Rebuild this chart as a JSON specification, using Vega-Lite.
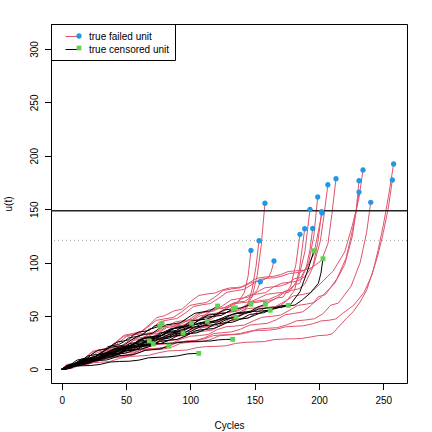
{
"$schema":"https://vega.github.io/schema/vega-lite/v6.json",
"width":356,"height":359,
"autosize":{"type":"none"},
"padding":{"left":51,"top":24,"right":25,"bottom":49},
"config":{"font":"Liberation Sans","view":{"stroke":"black","strokeWidth":1},
"axis":{"grid":false,"domain":false,"tickColor":"black","tickSize":6.5,"tickWidth":1,"labelFontSize":10,"labelColor":"black","titleFontSize":10,"titleFontWeight":"normal","titleColor":"black","labelFont":"Liberation Sans","titleFont":"Liberation Sans","labelFlush":false,"labelOverlap":false}},
"datasets":{
"units":[
{"id":"f1","lab":"true failed unit","st":"f"},{"id":"f2","lab":"true failed unit","st":"f"},{"id":"f3","lab":"true failed unit","st":"f"},{"id":"f4","lab":"true failed unit","st":"f"},{"id":"f5","lab":"true failed unit","st":"f"},{"id":"f6","lab":"true failed unit","st":"f"},{"id":"f7","lab":"true failed unit","st":"f"},{"id":"f8","lab":"true failed unit","st":"f"},{"id":"f9","lab":"true failed unit","st":"f"},{"id":"f10","lab":"true failed unit","st":"f"},{"id":"f11","lab":"true failed unit","st":"f"},{"id":"f12","lab":"true failed unit","st":"f"},{"id":"f13","lab":"true failed unit","st":"f"},{"id":"f14","lab":"true failed unit","st":"f"},{"id":"f15","lab":"true failed unit","st":"f"},{"id":"f16","lab":"true failed unit","st":"f"},{"id":"f17","lab":"true failed unit","st":"f"},{"id":"f18","lab":"true failed unit","st":"f"},{"id":"f19","lab":"true failed unit","st":"f"},{"id":"f20","lab":"true failed unit","st":"f"},
{"id":"c1","lab":"true censored unit","st":"c"},{"id":"c2","lab":"true censored unit","st":"c"},{"id":"c3","lab":"true censored unit","st":"c"},{"id":"c4","lab":"true censored unit","st":"c"},{"id":"c5","lab":"true censored unit","st":"c"},{"id":"c6","lab":"true censored unit","st":"c"},{"id":"c7","lab":"true censored unit","st":"c"},{"id":"c8","lab":"true censored unit","st":"c"},{"id":"c9","lab":"true censored unit","st":"c"},{"id":"c10","lab":"true censored unit","st":"c"},{"id":"c11","lab":"true censored unit","st":"c"},{"id":"c12","lab":"true censored unit","st":"c"},{"id":"c13","lab":"true censored unit","st":"c"},{"id":"c14","lab":"true censored unit","st":"c"},{"id":"c15","lab":"true censored unit","st":"c"},{"id":"c16","lab":"true censored unit","st":"c"},{"id":"c17","lab":"true censored unit","st":"c"},{"id":"c18","lab":"true censored unit","st":"c"},{"id":"c19","lab":"true censored unit","st":"c"},{"id":"c20","lab":"true censored unit","st":"c"}
],
"refs":[{"k":"solid","y":148.5},{"k":"dot","y":120.8}],
"paths":[
{"id":"f1","t":0,"u":0},{"id":"f1","t":10,"u":3.5},{"id":"f1","t":22,"u":8.2},{"id":"f1","t":35,"u":11.6},{"id":"f1","t":48,"u":18},{"id":"f1","t":60,"u":21.5},{"id":"f1","t":73,"u":27.3},{"id":"f1","t":86,"u":30.6},{"id":"f1","t":98,"u":36.2},{"id":"f1","t":110,"u":39.5},{"id":"f1","t":122,"u":44.6},{"id":"f1","t":133,"u":48.8},{"id":"f1","t":142,"u":55.5},{"id":"f1","t":148,"u":68},{"id":"f1","t":152,"u":88},{"id":"f1","t":155,"u":115},{"id":"f1","t":158,"u":155.5},
{"id":"f2","t":0,"u":0},{"id":"f2","t":12,"u":4.4},{"id":"f2","t":25,"u":8.6},{"id":"f2","t":38,"u":13.5},{"id":"f2","t":50,"u":16.8},{"id":"f2","t":63,"u":22.4},{"id":"f2","t":76,"u":25.7},{"id":"f2","t":90,"u":31.2},{"id":"f2","t":103,"u":34.6},{"id":"f2","t":116,"u":40.3},{"id":"f2","t":128,"u":44.8},{"id":"f2","t":138,"u":50.5},{"id":"f2","t":144,"u":58},{"id":"f2","t":148,"u":75},{"id":"f2","t":151,"u":96},{"id":"f2","t":153.4,"u":120.4},
{"id":"f3","t":0,"u":0},{"id":"f3","t":11,"u":5.3},{"id":"f3","t":23,"u":9.6},{"id":"f3","t":35,"u":15.4},{"id":"f3","t":47,"u":20.5},{"id":"f3","t":59,"u":26.3},{"id":"f3","t":71,"u":30.6},{"id":"f3","t":84,"u":37.2},{"id":"f3","t":96,"u":41.5},{"id":"f3","t":108,"u":47.4},{"id":"f3","t":120,"u":52.6},{"id":"f3","t":130,"u":58.3},{"id":"f3","t":137,"u":62.8},{"id":"f3","t":142,"u":72},{"id":"f3","t":145,"u":88},{"id":"f3","t":147.1,"u":111.4},
{"id":"f4","t":0,"u":0},{"id":"f4","t":8,"u":5.2},{"id":"f4","t":18,"u":10.6},{"id":"f4","t":30,"u":18.3},{"id":"f4","t":42,"u":25.4},{"id":"f4","t":55,"u":33.5},{"id":"f4","t":68,"u":41.6},{"id":"f4","t":80,"u":50.2},{"id":"f4","t":87,"u":54.6},{"id":"f4","t":100,"u":63.3},{"id":"f4","t":113,"u":70.6},{"id":"f4","t":125,"u":74.4},{"id":"f4","t":136,"u":76.6},{"id":"f4","t":146,"u":80.4},{"id":"f4","t":155,"u":82.7},{"id":"f4","t":161,"u":86.5},{"id":"f4","t":163,"u":92},{"id":"f4","t":165,"u":101.4},
{"id":"f5","t":0,"u":0},{"id":"f5","t":10,"u":5.4},{"id":"f5","t":21,"u":9.7},{"id":"f5","t":33,"u":16.3},{"id":"f5","t":46,"u":21.6},{"id":"f5","t":58,"u":29.2},{"id":"f5","t":70,"u":34.5},{"id":"f5","t":83,"u":41.3},{"id":"f5","t":95,"u":45.6},{"id":"f5","t":108,"u":52.4},{"id":"f5","t":120,"u":56.5},{"id":"f5","t":132,"u":61.3},{"id":"f5","t":142,"u":63.6},{"id":"f5","t":148,"u":68},{"id":"f5","t":152,"u":74.5},{"id":"f5","t":154.4,"u":82},
{"id":"f6","t":0,"u":0},{"id":"f6","t":12,"u":4.3},{"id":"f6","t":25,"u":9.5},{"id":"f6","t":38,"u":13.6},{"id":"f6","t":52,"u":19.4},{"id":"f6","t":66,"u":23.6},{"id":"f6","t":80,"u":30.3},{"id":"f6","t":94,"u":34.6},{"id":"f6","t":108,"u":40.5},{"id":"f6","t":122,"u":45.6},{"id":"f6","t":136,"u":52.4},{"id":"f6","t":150,"u":57.5},{"id":"f6","t":162,"u":63.4},{"id":"f6","t":172,"u":67.6},{"id":"f6","t":178,"u":78},{"id":"f6","t":182,"u":98},{"id":"f6","t":185.2,"u":126.4},
{"id":"f7","t":0,"u":0},{"id":"f7","t":13,"u":5.2},{"id":"f7","t":26,"u":8.6},{"id":"f7","t":40,"u":13.4},{"id":"f7","t":54,"u":17.6},{"id":"f7","t":68,"u":22.5},{"id":"f7","t":82,"u":26.6},{"id":"f7","t":96,"u":31.4},{"id":"f7","t":110,"u":35.6},{"id":"f7","t":124,"u":41.5},{"id":"f7","t":138,"u":46.6},{"id":"f7","t":152,"u":53.4},{"id":"f7","t":165,"u":58.6},{"id":"f7","t":175,"u":64.3},{"id":"f7","t":181,"u":74},{"id":"f7","t":185,"u":95},{"id":"f7","t":188.9,"u":131.7},
{"id":"f8","t":0,"u":0},{"id":"f8","t":11,"u":5.4},{"id":"f8","t":23,"u":9.6},{"id":"f8","t":36,"u":16.3},{"id":"f8","t":49,"u":21.5},{"id":"f8","t":62,"u":28.4},{"id":"f8","t":75,"u":33.6},{"id":"f8","t":88,"u":40.4},{"id":"f8","t":101,"u":45.5},{"id":"f8","t":114,"u":51.3},{"id":"f8","t":127,"u":56.6},{"id":"f8","t":140,"u":62.4},{"id":"f8","t":153,"u":66.5},{"id":"f8","t":166,"u":71.3},{"id":"f8","t":177,"u":74.6},{"id":"f8","t":185,"u":80.5},{"id":"f8","t":190,"u":95},{"id":"f8","t":193,"u":112},{"id":"f8","t":195.1,"u":132},
{"id":"f9","t":0,"u":0},{"id":"f9","t":12,"u":4.6},{"id":"f9","t":25,"u":10.4},{"id":"f9","t":38,"u":14.5},{"id":"f9","t":51,"u":20.3},{"id":"f9","t":64,"u":25.6},{"id":"f9","t":77,"u":31.4},{"id":"f9","t":90,"u":35.5},{"id":"f9","t":103,"u":42.3},{"id":"f9","t":116,"u":46.6},{"id":"f9","t":129,"u":53.4},{"id":"f9","t":142,"u":57.6},{"id":"f9","t":155,"u":63.3},{"id":"f9","t":167,"u":66.5},{"id":"f9","t":177,"u":72.4},{"id":"f9","t":184,"u":85},{"id":"f9","t":189,"u":110},{"id":"f9","t":193,"u":149.8},
{"id":"f10","t":0,"u":0},{"id":"f10","t":10,"u":5.3},{"id":"f10","t":22,"u":10.6},{"id":"f10","t":34,"u":17.4},{"id":"f10","t":47,"u":22.5},{"id":"f10","t":60,"u":29.4},{"id":"f10","t":73,"u":34.5},{"id":"f10","t":86,"u":41.3},{"id":"f10","t":99,"u":46.5},{"id":"f10","t":112,"u":53.4},{"id":"f10","t":125,"u":59.5},{"id":"f10","t":138,"u":66.3},{"id":"f10","t":151,"u":71.6},{"id":"f10","t":164,"u":77.3},{"id":"f10","t":176,"u":80.6},{"id":"f10","t":186,"u":86},{"id":"f10","t":192,"u":100},{"id":"f10","t":196,"u":125},{"id":"f10","t":199,"u":161.4},
{"id":"f11","t":0,"u":0},{"id":"f11","t":11,"u":4.2},{"id":"f11","t":24,"u":9.5},{"id":"f11","t":37,"u":13.6},{"id":"f11","t":50,"u":20.4},{"id":"f11","t":63,"u":24.6},{"id":"f11","t":76,"u":31.3},{"id":"f11","t":89,"u":35.5},{"id":"f11","t":102,"u":42.4},{"id":"f11","t":115,"u":47.5},{"id":"f11","t":128,"u":53.3},{"id":"f11","t":141,"u":58.6},{"id":"f11","t":154,"u":64.4},{"id":"f11","t":167,"u":68.5},{"id":"f11","t":180,"u":74.3},{"id":"f11","t":189,"u":80},{"id":"f11","t":195,"u":95},{"id":"f11","t":199,"u":118},{"id":"f11","t":202.1,"u":147.6},
{"id":"f12","t":0,"u":0},{"id":"f12","t":9,"u":5.3},{"id":"f12","t":20,"u":10.6},{"id":"f12","t":32,"u":18.4},{"id":"f12","t":44,"u":24.6},{"id":"f12","t":57,"u":32.4},{"id":"f12","t":70,"u":38.5},{"id":"f12","t":83,"u":46.3},{"id":"f12","t":96,"u":52.6},{"id":"f12","t":109,"u":60.4},{"id":"f12","t":122,"u":66.5},{"id":"f12","t":135,"u":73.6},{"id":"f12","t":148,"u":79.5},{"id":"f12","t":160,"u":85.3},{"id":"f12","t":172,"u":87.6},{"id":"f12","t":182,"u":90.4},{"id":"f12","t":190,"u":94},{"id":"f12","t":196,"u":108},{"id":"f12","t":202.3,"u":146.4},
{"id":"f13","t":0,"u":0},{"id":"f13","t":10,"u":4.4},{"id":"f13","t":22,"u":9.6},{"id":"f13","t":35,"u":16.3},{"id":"f13","t":48,"u":21.5},{"id":"f13","t":61,"u":28.4},{"id":"f13","t":74,"u":33.6},{"id":"f13","t":87,"u":40.3},{"id":"f13","t":100,"u":45.5},{"id":"f13","t":113,"u":52.4},{"id":"f13","t":126,"u":57.6},{"id":"f13","t":139,"u":65.3},{"id":"f13","t":152,"u":70.5},{"id":"f13","t":165,"u":77.4},{"id":"f13","t":178,"u":81.6},{"id":"f13","t":189,"u":87},{"id":"f13","t":196,"u":98},{"id":"f13","t":201,"u":120},{"id":"f13","t":204,"u":145},{"id":"f13","t":206.9,"u":172.9},
{"id":"f14","t":0,"u":0},{"id":"f14","t":8,"u":5.4},{"id":"f14","t":19,"u":10.6},{"id":"f14","t":30,"u":18.3},{"id":"f14","t":42,"u":24.5},{"id":"f14","t":54,"u":32.4},{"id":"f14","t":67,"u":39.6},{"id":"f14","t":80,"u":47.3},{"id":"f14","t":93,"u":53.5},{"id":"f14","t":106,"u":61.4},{"id":"f14","t":119,"u":67.6},{"id":"f14","t":132,"u":75.3},{"id":"f14","t":145,"u":80.5},{"id":"f14","t":158,"u":86.4},{"id":"f14","t":170,"u":88.6},{"id":"f14","t":182,"u":92.3},{"id":"f14","t":194,"u":95},{"id":"f14","t":202,"u":102},{"id":"f14","t":207,"u":118},{"id":"f14","t":210,"u":145},{"id":"f14","t":213.2,"u":178.5},
{"id":"f15","t":0,"u":0},{"id":"f15","t":12,"u":4.3},{"id":"f15","t":25,"u":7.6},{"id":"f15","t":38,"u":12.4},{"id":"f15","t":51,"u":15.6},{"id":"f15","t":65,"u":20.3},{"id":"f15","t":79,"u":23.5},{"id":"f15","t":93,"u":28.4},{"id":"f15","t":107,"u":31.6},{"id":"f15","t":121,"u":37.3},{"id":"f15","t":135,"u":40.5},{"id":"f15","t":149,"u":45.4},{"id":"f15","t":163,"u":49.6},{"id":"f15","t":177,"u":55.3},{"id":"f15","t":190,"u":61},{"id":"f15","t":202,"u":68},{"id":"f15","t":212,"u":80},{"id":"f15","t":220,"u":98},{"id":"f15","t":226,"u":125},{"id":"f15","t":229,"u":150},{"id":"f15","t":231.1,"u":176.6},
{"id":"f16","t":0,"u":0},{"id":"f16","t":13,"u":4.4},{"id":"f16","t":27,"u":7.6},{"id":"f16","t":41,"u":11.3},{"id":"f16","t":55,"u":14.5},{"id":"f16","t":69,"u":19.4},{"id":"f16","t":83,"u":21.6},{"id":"f16","t":97,"u":26.3},{"id":"f16","t":111,"u":29.5},{"id":"f16","t":125,"u":34.4},{"id":"f16","t":139,"u":37.6},{"id":"f16","t":153,"u":42.3},{"id":"f16","t":167,"u":46.5},{"id":"f16","t":181,"u":52.4},{"id":"f16","t":194,"u":60},{"id":"f16","t":205,"u":70},{"id":"f16","t":214,"u":85},{"id":"f16","t":221,"u":104},{"id":"f16","t":226,"u":130},{"id":"f16","t":229,"u":148},{"id":"f16","t":231.1,"u":166},
{"id":"f17","t":0,"u":0},{"id":"f17","t":11,"u":5.3},{"id":"f17","t":23,"u":9.6},{"id":"f17","t":36,"u":14.4},{"id":"f17","t":49,"u":18.6},{"id":"f17","t":62,"u":24.3},{"id":"f17","t":75,"u":28.5},{"id":"f17","t":89,"u":34.4},{"id":"f17","t":103,"u":38.6},{"id":"f17","t":117,"u":44.3},{"id":"f17","t":131,"u":48.5},{"id":"f17","t":145,"u":53.4},{"id":"f17","t":159,"u":57.6},{"id":"f17","t":173,"u":63.3},{"id":"f17","t":187,"u":70},{"id":"f17","t":200,"u":79},{"id":"f17","t":211,"u":92},{"id":"f17","t":220,"u":110},{"id":"f17","t":226,"u":135},{"id":"f17","t":231,"u":160},{"id":"f17","t":234.2,"u":186.7},
{"id":"f18","t":0,"u":0},{"id":"f18","t":14,"u":4.3},{"id":"f18","t":28,"u":7.6},{"id":"f18","t":42,"u":11.4},{"id":"f18","t":56,"u":13.6},{"id":"f18","t":70,"u":18.3},{"id":"f18","t":85,"u":20.5},{"id":"f18","t":100,"u":25.4},{"id":"f18","t":115,"u":27.6},{"id":"f18","t":130,"u":32.3},{"id":"f18","t":145,"u":34.5},{"id":"f18","t":160,"u":38.4},{"id":"f18","t":175,"u":41.6},{"id":"f18","t":190,"u":46.3},{"id":"f18","t":203,"u":52},{"id":"f18","t":215,"u":62},{"id":"f18","t":225,"u":78},{"id":"f18","t":232,"u":100},{"id":"f18","t":237,"u":128},{"id":"f18","t":240.2,"u":156.4},
{"id":"f19","t":0,"u":0},{"id":"f19","t":15,"u":4.2},{"id":"f19","t":30,"u":6.6},{"id":"f19","t":45,"u":10.3},{"id":"f19","t":60,"u":12.5},{"id":"f19","t":75,"u":15.4},{"id":"f19","t":90,"u":17.6},{"id":"f19","t":105,"u":20.3},{"id":"f19","t":120,"u":21.5},{"id":"f19","t":135,"u":24.2},{"id":"f19","t":150,"u":25.6},{"id":"f19","t":165,"u":27.8},{"id":"f19","t":180,"u":28.6},{"id":"f19","t":193,"u":30.2},{"id":"f19","t":206,"u":32},{"id":"f19","t":214,"u":38},{"id":"f19","t":221.5,"u":48},{"id":"f19","t":226.6,"u":54},{"id":"f19","t":231.9,"u":63},{"id":"f19","t":237,"u":74},{"id":"f19","t":242.2,"u":93},{"id":"f19","t":246,"u":112},{"id":"f19","t":250,"u":135},{"id":"f19","t":254,"u":162},{"id":"f19","t":258,"u":192.3},
{"id":"f20","t":0,"u":0},{"id":"f20","t":13,"u":4.4},{"id":"f20","t":27,"u":7.6},{"id":"f20","t":41,"u":12.3},{"id":"f20","t":55,"u":14.6},{"id":"f20","t":69,"u":19.3},{"id":"f20","t":83,"u":21.5},{"id":"f20","t":97,"u":26.4},{"id":"f20","t":111,"u":28.6},{"id":"f20","t":125,"u":32.3},{"id":"f20","t":139,"u":33.6},{"id":"f20","t":153,"u":36.4},{"id":"f20","t":167,"u":37.6},{"id":"f20","t":181,"u":40.3},{"id":"f20","t":195,"u":42.6},{"id":"f20","t":208,"u":46},{"id":"f20","t":218,"u":52},{"id":"f20","t":227,"u":60},{"id":"f20","t":235,"u":72},{"id":"f20","t":241,"u":88},{"id":"f20","t":246,"u":108},{"id":"f20","t":250,"u":128},{"id":"f20","t":254,"u":152},{"id":"f20","t":257,"u":177.3},
{"id":"c1","t":0,"u":0},{"id":"c1","t":12,"u":5.3},{"id":"c1","t":25,"u":9.6},{"id":"c1","t":38,"u":15.4},{"id":"c1","t":51,"u":19.6},{"id":"c1","t":64,"u":25.3},{"id":"c1","t":77,"u":29.5},{"id":"c1","t":90,"u":35.4},{"id":"c1","t":103,"u":39.6},{"id":"c1","t":116,"u":44.3},{"id":"c1","t":129,"u":47.5},{"id":"c1","t":142,"u":52.4},{"id":"c1","t":155,"u":54.6},{"id":"c1","t":167,"u":58.3},{"id":"c1","t":177.4,"u":60.2},{"id":"c1","t":185.2,"u":72.7},{"id":"c1","t":190.4,"u":90},{"id":"c1","t":193,"u":99.3},{"id":"c1","t":196.1,"u":111.1},
{"id":"c2","t":0,"u":0},{"id":"c2","t":11,"u":4.6},{"id":"c2","t":23,"u":10.3},{"id":"c2","t":36,"u":14.5},{"id":"c2","t":49,"u":20.4},{"id":"c2","t":62,"u":24.6},{"id":"c2","t":75,"u":30.3},{"id":"c2","t":88,"u":34.5},{"id":"c2","t":101,"u":40.4},{"id":"c2","t":114,"u":44.6},{"id":"c2","t":127,"u":49.3},{"id":"c2","t":140,"u":52.5},{"id":"c2","t":153,"u":56.4},{"id":"c2","t":166,"u":57.6},{"id":"c2","t":175,"u":59.3},{"id":"c2","t":181.3,"u":60.2},{"id":"c2","t":187,"u":65},{"id":"c2","t":193,"u":71.2},{"id":"c2","t":199.5,"u":80.5},{"id":"c2","t":201.5,"u":90},{"id":"c2","t":203.1,"u":103.6},
{"id":"c3","t":0,"u":0},{"id":"c3","t":10,"u":5.4},{"id":"c3","t":22,"u":9.6},{"id":"c3","t":34,"u":15.3},{"id":"c3","t":46,"u":19.5},{"id":"c3","t":58,"u":25.4},{"id":"c3","t":70,"u":29.6},{"id":"c3","t":82,"u":35.3},{"id":"c3","t":94,"u":39.5},{"id":"c3","t":106,"u":45.4},{"id":"c3","t":118,"u":49.6},{"id":"c3","t":130,"u":54.3},{"id":"c3","t":140,"u":57.6},{"id":"c3","t":147.1,"u":60.9},
{"id":"c4","t":0,"u":0},{"id":"c4","t":12,"u":4.5},{"id":"c4","t":25,"u":9.3},{"id":"c4","t":38,"u":13.6},{"id":"c4","t":51,"u":19.4},{"id":"c4","t":64,"u":23.5},{"id":"c4","t":77,"u":29.3},{"id":"c4","t":90,"u":33.6},{"id":"c4","t":103,"u":39.4},{"id":"c4","t":116,"u":43.5},{"id":"c4","t":129,"u":49.3},{"id":"c4","t":142,"u":53.6},{"id":"c4","t":152,"u":58.2},{"id":"c4","t":158.3,"u":60.9},
{"id":"c5","t":0,"u":0},{"id":"c5","t":13,"u":4.4},{"id":"c5","t":27,"u":9.3},{"id":"c5","t":41,"u":12.6},{"id":"c5","t":55,"u":18.4},{"id":"c5","t":69,"u":21.6},{"id":"c5","t":83,"u":27.3},{"id":"c5","t":97,"u":31.5},{"id":"c5","t":111,"u":37.4},{"id":"c5","t":125,"u":41.6},{"id":"c5","t":139,"u":47.3},{"id":"c5","t":150,"u":50.6},{"id":"c5","t":157,"u":54.2},{"id":"c5","t":162.1,"u":55.3},
{"id":"c6","t":0,"u":0},{"id":"c6","t":14,"u":5.3},{"id":"c6","t":28,"u":8.6},{"id":"c6","t":42,"u":14.4},{"id":"c6","t":56,"u":17.6},{"id":"c6","t":70,"u":23.4},{"id":"c6","t":84,"u":27.5},{"id":"c6","t":98,"u":33.3},{"id":"c6","t":112,"u":37.6},{"id":"c6","t":126,"u":43.4},{"id":"c6","t":140,"u":47.5},{"id":"c6","t":152,"u":52.3},{"id":"c6","t":162,"u":55.6},{"id":"c6","t":170,"u":58.2},{"id":"c6","t":176.1,"u":59.9},
{"id":"c7","t":0,"u":0},{"id":"c7","t":10,"u":5.4},{"id":"c7","t":21,"u":10.6},{"id":"c7","t":32,"u":16.4},{"id":"c7","t":43,"u":21.6},{"id":"c7","t":54,"u":27.3},{"id":"c7","t":65,"u":32.6},{"id":"c7","t":76,"u":38.4},{"id":"c7","t":87,"u":42.6},{"id":"c7","t":98,"u":48.3},{"id":"c7","t":109,"u":53.6},{"id":"c7","t":121.2,"u":59.3},
{"id":"c8","t":0,"u":0},{"id":"c8","t":11,"u":5.3},{"id":"c8","t":23,"u":9.6},{"id":"c8","t":35,"u":15.4},{"id":"c8","t":47,"u":19.6},{"id":"c8","t":59,"u":25.3},{"id":"c8","t":71,"u":29.5},{"id":"c8","t":83,"u":35.4},{"id":"c8","t":95,"u":40.6},{"id":"c8","t":107,"u":46.3},{"id":"c8","t":119,"u":50.5},{"id":"c8","t":133.4,"u":56.8},
{"id":"c9","t":0,"u":0},{"id":"c9","t":12,"u":5.4},{"id":"c9","t":24,"u":9.6},{"id":"c9","t":36,"u":16.3},{"id":"c9","t":48,"u":20.5},{"id":"c9","t":60,"u":26.4},{"id":"c9","t":72,"u":30.6},{"id":"c9","t":84,"u":36.3},{"id":"c9","t":96,"u":40.5},{"id":"c9","t":108,"u":47.4},{"id":"c9","t":120,"u":51.6},{"id":"c9","t":135,"u":57.7},
{"id":"c10","t":0,"u":0},{"id":"c10","t":12,"u":4.3},{"id":"c10","t":25,"u":9.4},{"id":"c10","t":38,"u":12.6},{"id":"c10","t":51,"u":18.3},{"id":"c10","t":64,"u":21.5},{"id":"c10","t":77,"u":27.4},{"id":"c10","t":90,"u":31.6},{"id":"c10","t":103,"u":37.3},{"id":"c10","t":116,"u":41.5},{"id":"c10","t":126,"u":45.4},{"id":"c10","t":135.5,"u":48.7},
{"id":"c11","t":0,"u":0},{"id":"c11","t":10,"u":4.4},{"id":"c11","t":21,"u":9.3},{"id":"c11","t":32,"u":12.6},{"id":"c11","t":43,"u":18.4},{"id":"c11","t":54,"u":21.6},{"id":"c11","t":65,"u":27.3},{"id":"c11","t":76,"u":30.5},{"id":"c11","t":87,"u":35.4},{"id":"c11","t":98,"u":38.6},{"id":"c11","t":106,"u":42.3},{"id":"c11","t":113.2,"u":44.9},
{"id":"c12","t":0,"u":0},{"id":"c12","t":10,"u":4.3},{"id":"c12","t":20,"u":9.4},{"id":"c12","t":30,"u":12.6},{"id":"c12","t":40,"u":18.3},{"id":"c12","t":50,"u":21.5},{"id":"c12","t":60,"u":27.4},{"id":"c12","t":70,"u":30.6},{"id":"c12","t":80,"u":35.3},{"id":"c12","t":90,"u":38.5},{"id":"c12","t":101,"u":43.1},
{"id":"c13","t":0,"u":0},{"id":"c13","t":8,"u":5.3},{"id":"c13","t":16,"u":9.6},{"id":"c13","t":24,"u":14.4},{"id":"c13","t":32,"u":18.6},{"id":"c13","t":40,"u":23.3},{"id":"c13","t":48,"u":26.5},{"id":"c13","t":56,"u":32.4},{"id":"c13","t":64,"u":35.6},{"id":"c13","t":72,"u":40.3},{"id":"c13","t":78,"u":43.1},
{"id":"c14","t":0,"u":0},{"id":"c14","t":8,"u":4.4},{"id":"c14","t":16,"u":8.6},{"id":"c14","t":24,"u":13.3},{"id":"c14","t":32,"u":16.5},{"id":"c14","t":40,"u":22.4},{"id":"c14","t":48,"u":25.6},{"id":"c14","t":56,"u":30.3},{"id":"c14","t":64,"u":33.5},{"id":"c14","t":71,"u":38.4},{"id":"c14","t":76.4,"u":40.6},
{"id":"c15","t":0,"u":0},{"id":"c15","t":10,"u":4.3},{"id":"c15","t":20,"u":7.6},{"id":"c15","t":30,"u":12.4},{"id":"c15","t":40,"u":14.6},{"id":"c15","t":50,"u":19.3},{"id":"c15","t":60,"u":21.5},{"id":"c15","t":70,"u":26.4},{"id":"c15","t":80,"u":28.6},{"id":"c15","t":88,"u":32.3},{"id":"c15","t":94.3,"u":34},
{"id":"c16","t":0,"u":0},{"id":"c16","t":8,"u":3.4},{"id":"c16","t":16,"u":5.6},{"id":"c16","t":24,"u":10.3},{"id":"c16","t":32,"u":12.5},{"id":"c16","t":40,"u":16.4},{"id":"c16","t":48,"u":18.6},{"id":"c16","t":56,"u":22.3},{"id":"c16","t":62,"u":23.6},{"id":"c16","t":68.1,"u":26.5},
{"id":"c17","t":0,"u":0},{"id":"c17","t":9,"u":3.4},{"id":"c17","t":18,"u":5.6},{"id":"c17","t":27,"u":9.3},{"id":"c17","t":36,"u":11.5},{"id":"c17","t":45,"u":15.4},{"id":"c17","t":54,"u":17.6},{"id":"c17","t":63,"u":21.3},{"id":"c17","t":71.2,"u":23.7},
{"id":"c18","t":0,"u":0},{"id":"c18","t":10,"u":3.3},{"id":"c18","t":20,"u":5.6},{"id":"c18","t":30,"u":8.4},{"id":"c18","t":40,"u":10.6},{"id":"c18","t":50,"u":13.3},{"id":"c18","t":60,"u":15.5},{"id":"c18","t":70,"u":18.4},{"id":"c18","t":83.2,"u":21.8},
{"id":"c19","t":0,"u":0},{"id":"c19","t":12,"u":4.3},{"id":"c19","t":25,"u":8.6},{"id":"c19","t":38,"u":14.3},{"id":"c19","t":50,"u":17.6},{"id":"c19","t":60,"u":21.4},{"id":"c19","t":68,"u":23.8},{"id":"c19","t":80,"u":24.3},{"id":"c19","t":95,"u":25.6},{"id":"c19","t":110,"u":26.3},{"id":"c19","t":122,"u":27.6},{"id":"c19","t":132.9,"u":28.1},
{"id":"c20","t":0,"u":0},{"id":"c20","t":15,"u":3.3},{"id":"c20","t":30,"u":4.6},{"id":"c20","t":45,"u":7.4},{"id":"c20","t":60,"u":8.6},{"id":"c20","t":75,"u":11.3},{"id":"c20","t":90,"u":12.6},{"id":"c20","t":106.5,"u":15},
{"id":"f1","t":5,"u":2.8},{"id":"f1","t":16,"u":4.4},{"id":"f1","t":28.5,"u":10.9},{"id":"f1","t":41.5,"u":12.9},{"id":"f1","t":54,"u":20.8},{"id":"f1","t":66.5,"u":22.7},{"id":"f1","t":79.5,"u":29.9},{"id":"f1","t":92,"u":31.7},{"id":"f1","t":104,"u":38.8},{"id":"f1","t":116,"u":40.5},{"id":"f1","t":127.5,"u":48},{"id":"f1","t":137.5,"u":50.1},
{"id":"f2","t":6,"u":3.5},{"id":"f2","t":18.5,"u":5.2},{"id":"f2","t":31.5,"u":12.5},{"id":"f2","t":44,"u":14.2},{"id":"f2","t":56.5,"u":21.3},{"id":"f2","t":69.5,"u":23.1},{"id":"f2","t":83,"u":30.1},{"id":"f2","t":96.5,"u":31.9},{"id":"f2","t":109.5,"u":39.2},{"id":"f2","t":122,"u":41.2},{"id":"f2","t":133,"u":49.4},{"id":"f2","t":141,"u":52},
{"id":"f3","t":5.5,"u":1.1},{"id":"f3","t":17,"u":8.7},{"id":"f3","t":29,"u":10.8},{"id":"f3","t":41,"u":19.5},{"id":"f3","t":53,"u":21.7},{"id":"f3","t":65,"u":29.7},{"id":"f3","t":77.5,"u":31.9},{"id":"f3","t":90,"u":40.6},{"id":"f3","t":102,"u":42.7},{"id":"f3","t":114,"u":51.6},{"id":"f3","t":125,"u":53.7},{"id":"f3","t":133.5,"u":61.9},
{"id":"f4","t":4,"u":4.2},{"id":"f4","t":13,"u":6.3},{"id":"f4","t":24,"u":16.8},{"id":"f4","t":36,"u":19.7},{"id":"f4","t":48.5,"u":31.9},{"id":"f4","t":61.5,"u":35.1},{"id":"f4","t":74,"u":48.5},{"id":"f4","t":93.5,"u":56.3},{"id":"f4","t":106.5,"u":69.1},{"id":"f4","t":119,"u":71.4},{"id":"f4","t":130.5,"u":76.2},{"id":"f4","t":141,"u":77.4},{"id":"f4","t":150.5,"u":82.2},
{"id":"f5","t":5,"u":1.1},{"id":"f5","t":15.5,"u":8.8},{"id":"f5","t":27,"u":11},{"id":"f5","t":39.5,"u":20.5},{"id":"f5","t":52,"u":23.1},{"id":"f5","t":64,"u":33.4},{"id":"f5","t":76.5,"u":35.9},{"id":"f5","t":89,"u":44.7},{"id":"f5","t":101.5,"u":46.9},{"id":"f5","t":114,"u":55.7},{"id":"f5","t":126,"u":57.5},{"id":"f5","t":137,"u":63.1},
{"id":"f6","t":6,"u":3.4},{"id":"f6","t":18.5,"u":5.3},{"id":"f6","t":31.5,"u":12.8},{"id":"f6","t":45,"u":14.8},{"id":"f6","t":59,"u":22.8},{"id":"f6","t":73,"u":25},{"id":"f6","t":87,"u":33.7},{"id":"f6","t":101,"u":35.8},{"id":"f6","t":115,"u":44.6},{"id":"f6","t":129,"u":47},{"id":"f6","t":143,"u":56.5},{"id":"f6","t":156,"u":58.7},{"id":"f6","t":167,"u":66.8},
{"id":"f7","t":6.5,"u":1},{"id":"f7","t":19.5,"u":7.9},{"id":"f7","t":33,"u":9.6},{"id":"f7","t":47,"u":16.8},{"id":"f7","t":61,"u":18.6},{"id":"f7","t":75,"u":25.8},{"id":"f7","t":89,"u":27.6},{"id":"f7","t":103,"u":34.8},{"id":"f7","t":117,"u":36.8},{"id":"f7","t":131,"u":45.6},{"id":"f7","t":145,"u":48},{"id":"f7","t":158.5,"u":57.6},{"id":"f7","t":170,"u":59.7},
{"id":"f8","t":5.5,"u":4.3},{"id":"f8","t":17,"u":6.2},{"id":"f8","t":29.5,"u":15},{"id":"f8","t":42.5,"u":17.3},{"id":"f8","t":55.5,"u":27},{"id":"f8","t":68.5,"u":29.4},{"id":"f8","t":81.5,"u":39},{"id":"f8","t":94.5,"u":41.4},{"id":"f8","t":107.5,"u":50.1},{"id":"f8","t":120.5,"u":52.4},{"id":"f8","t":133.5,"u":61.2},{"id":"f8","t":146.5,"u":63.2},{"id":"f8","t":159.5,"u":70.3},{"id":"f8","t":171.5,"u":72},{"id":"f8","t":181,"u":79.3},
{"id":"f9","t":6,"u":0.9},{"id":"f9","t":18.5,"u":9.2},{"id":"f9","t":31.5,"u":11.2},{"id":"f9","t":44.5,"u":19.1},{"id":"f9","t":57.5,"u":21.4},{"id":"f9","t":70.5,"u":30.2},{"id":"f9","t":83.5,"u":32.2},{"id":"f9","t":96.5,"u":40.9},{"id":"f9","t":109.5,"u":43.2},{"id":"f9","t":122.5,"u":52},{"id":"f9","t":135.5,"u":54.2},{"id":"f9","t":148.5,"u":62.2},{"id":"f9","t":161,"u":63.9},{"id":"f9","t":172,"u":71.2},
{"id":"f10","t":5,"u":4.2},{"id":"f10","t":16,"u":6.4},{"id":"f10","t":28,"u":16},{"id":"f10","t":40.5,"u":18.4},{"id":"f10","t":53.5,"u":28},{"id":"f10","t":66.5,"u":30.4},{"id":"f10","t":79.5,"u":39.9},{"id":"f10","t":92.5,"u":42.3},{"id":"f10","t":105.5,"u":52},{"id":"f10","t":118.5,"u":54.7},{"id":"f10","t":131.5,"u":64.9},{"id":"f10","t":144.5,"u":67.4},{"id":"f10","t":157.5,"u":76.2},{"id":"f10","t":170,"u":78},{"id":"f10","t":181,"u":84.9},
{"id":"f11","t":5.5,"u":0.8},{"id":"f11","t":17.5,"u":8.4},{"id":"f11","t":30.5,"u":10.3},{"id":"f11","t":43.5,"u":19},{"id":"f11","t":56.5,"u":21.2},{"id":"f11","t":69.5,"u":30},{"id":"f11","t":82.5,"u":32.1},{"id":"f11","t":95.5,"u":41},{"id":"f11","t":108.5,"u":43.4},{"id":"f11","t":121.5,"u":52.1},{"id":"f11","t":134.5,"u":54.4},{"id":"f11","t":147.5,"u":63.2},{"id":"f11","t":160.5,"u":65.2},{"id":"f11","t":173.5,"u":73.1},{"id":"f11","t":184.5,"u":75.4},
{"id":"f12","t":4.5,"u":4.2},{"id":"f12","t":14.5,"u":6.4},{"id":"f12","t":26,"u":16.8},{"id":"f12","t":38,"u":19.6},{"id":"f12","t":50.5,"u":30.8},{"id":"f12","t":63.5,"u":33.6},{"id":"f12","t":76.5,"u":44.7},{"id":"f12","t":89.5,"u":47.6},{"id":"f12","t":102.5,"u":58.8},{"id":"f12","t":115.5,"u":61.6},{"id":"f12","t":128.5,"u":72.2},{"id":"f12","t":141.5,"u":74.8},{"id":"f12","t":154,"u":84.1},{"id":"f12","t":166,"u":85.8},{"id":"f12","t":177,"u":89.8},{"id":"f12","t":186,"u":91.1},
{"id":"f13","t":5,"u":0.9},{"id":"f13","t":16,"u":8.6},{"id":"f13","t":28.5,"u":10.9},{"id":"f13","t":41.5,"u":20.5},{"id":"f13","t":54.5,"u":22.9},{"id":"f13","t":67.5,"u":32.6},{"id":"f13","t":80.5,"u":34.9},{"id":"f13","t":93.5,"u":44.5},{"id":"f13","t":106.5,"u":46.9},{"id":"f13","t":119.5,"u":56.6},{"id":"f13","t":132.5,"u":59.1},{"id":"f13","t":145.5,"u":69.5},{"id":"f13","t":158.5,"u":71.9},{"id":"f13","t":171.5,"u":80.8},{"id":"f13","t":183.5,"u":82.7},
{"id":"f14","t":4,"u":4.3},{"id":"f14","t":13.5,"u":6.4},{"id":"f14","t":24.5,"u":16.8},{"id":"f14","t":36,"u":19.7},{"id":"f14","t":48,"u":30.8},{"id":"f14","t":60.5,"u":33.8},{"id":"f14","t":73.5,"u":45.8},{"id":"f14","t":86.5,"u":48.5},{"id":"f14","t":99.5,"u":59.8},{"id":"f14","t":112.5,"u":62.6},{"id":"f14","t":125.5,"u":73.8},{"id":"f14","t":138.5,"u":76.3},{"id":"f14","t":151.5,"u":85.2},{"id":"f14","t":164,"u":87},{"id":"f14","t":176,"u":91.6},{"id":"f14","t":188,"u":92.8},
{"id":"f15","t":6,"u":0.9},{"id":"f15","t":18.5,"u":7},{"id":"f15","t":31.5,"u":8.6},{"id":"f15","t":44.5,"u":15},{"id":"f15","t":58,"u":16.5},{"id":"f15","t":72,"u":22.9},{"id":"f15","t":86,"u":24.5},{"id":"f15","t":100,"u":31},{"id":"f15","t":114,"u":32.7},{"id":"f15","t":128,"u":39.9},{"id":"f15","t":142,"u":41.5},{"id":"f15","t":156,"u":48.8},{"id":"f15","t":170,"u":50.7},{"id":"f15","t":183.5,"u":59.9},{"id":"f15","t":196,"u":62.4},
{"id":"f16","t":6.5,"u":3.5},{"id":"f16","t":20,"u":5},{"id":"f16","t":34,"u":10.6},{"id":"f16","t":48,"u":11.9},{"id":"f16","t":62,"u":18.4},{"id":"f16","t":76,"u":19.8},{"id":"f16","t":90,"u":25.4},{"id":"f16","t":104,"u":26.9},{"id":"f16","t":118,"u":33.4},{"id":"f16","t":132,"u":35},{"id":"f16","t":146,"u":41.4},{"id":"f16","t":160,"u":43.1},{"id":"f16","t":174,"u":51.2},{"id":"f16","t":187.5,"u":53.9},{"id":"f16","t":199.5,"u":68},
{"id":"f17","t":5.5,"u":1.1},{"id":"f17","t":17,"u":8.7},{"id":"f17","t":29.5,"u":10.6},{"id":"f17","t":42.5,"u":17.8},{"id":"f17","t":55.5,"u":19.7},{"id":"f17","t":68.5,"u":27.7},{"id":"f17","t":82,"u":29.7},{"id":"f17","t":96,"u":37.8},{"id":"f17","t":110,"u":39.7},{"id":"f17","t":124,"u":47.7},{"id":"f17","t":138,"u":49.5},{"id":"f17","t":152,"u":56.8},{"id":"f17","t":166,"u":58.7},{"id":"f17","t":180,"u":68.7},{"id":"f17","t":193.5,"u":71.8},
{"id":"f18","t":7,"u":3.4},{"id":"f18","t":21,"u":5},{"id":"f18","t":35,"u":10.6},{"id":"f18","t":49,"u":11.8},{"id":"f18","t":63,"u":17.4},{"id":"f18","t":77.5,"u":18.7},{"id":"f18","t":92.5,"u":24.4},{"id":"f18","t":107.5,"u":25.8},{"id":"f18","t":122.5,"u":31.4},{"id":"f18","t":137.5,"u":32.7},{"id":"f18","t":152.5,"u":37.6},{"id":"f18","t":167.5,"u":39},{"id":"f18","t":182.5,"u":45.4},{"id":"f18","t":196.5,"u":47.4},{"id":"f18","t":209,"u":60},
{"id":"f19","t":7.5,"u":0.8},{"id":"f19","t":22.5,"u":6.1},{"id":"f19","t":37.5,"u":7.3},{"id":"f19","t":52.5,"u":12.1},{"id":"f19","t":67.5,"u":13.1},{"id":"f19","t":82.5,"u":17.2},{"id":"f19","t":97.5,"u":18.1},{"id":"f19","t":112.5,"u":21.3},{"id":"f19","t":127.5,"u":22},{"id":"f19","t":142.5,"u":25.3},{"id":"f19","t":157.5,"u":26},{"id":"f19","t":172.5,"u":28.4},{"id":"f19","t":186.5,"u":28.9},{"id":"f19","t":199.5,"u":31.6},{"id":"f19","t":210,"u":33.2},
{"id":"f20","t":6.5,"u":3.5},{"id":"f20","t":20,"u":5},{"id":"f20","t":34,"u":11.4},{"id":"f20","t":48,"u":12.8},{"id":"f20","t":62,"u":18.4},{"id":"f20","t":76,"u":19.7},{"id":"f20","t":90,"u":25.4},{"id":"f20","t":104,"u":27},{"id":"f20","t":118,"u":31.6},{"id":"f20","t":132,"u":32.6},{"id":"f20","t":146,"u":35.8},{"id":"f20","t":160,"u":36.6},{"id":"f20","t":174,"u":39.8},{"id":"f20","t":188,"u":40.8},{"id":"f20","t":201.5,"u":45.3},{"id":"f20","t":213,"u":47.2},
{"id":"c1","t":6,"u":1.1},{"id":"c1","t":18.5,"u":8.7},{"id":"c1","t":31.5,"u":10.8},{"id":"c1","t":44.5,"u":18.8},{"id":"c1","t":57.5,"u":20.7},{"id":"c1","t":70.5,"u":28.7},{"id":"c1","t":83.5,"u":30.7},{"id":"c1","t":96.5,"u":38.8},{"id":"c1","t":109.5,"u":40.5},{"id":"c1","t":122.5,"u":46.9},{"id":"c1","t":135.5,"u":48.5},{"id":"c1","t":148.5,"u":54.2},{"id":"c1","t":161,"u":55.3},{"id":"c1","t":172,"u":59.8},
{"id":"c2","t":5.5,"u":3.7},{"id":"c2","t":17,"u":5.7},{"id":"c2","t":29.5,"u":13.7},{"id":"c2","t":42.5,"u":15.7},{"id":"c2","t":55.5,"u":23.8},{"id":"c2","t":68.5,"u":25.7},{"id":"c2","t":81.5,"u":33.7},{"id":"c2","t":94.5,"u":35.7},{"id":"c2","t":107.5,"u":43.8},{"id":"c2","t":120.5,"u":45.5},{"id":"c2","t":133.5,"u":51.9},{"id":"c2","t":146.5,"u":53.3},{"id":"c2","t":159.5,"u":57.4},{"id":"c2","t":170.5,"u":58},
{"id":"c3","t":5,"u":1.1},{"id":"c3","t":16,"u":8.8},{"id":"c3","t":28,"u":10.7},{"id":"c3","t":40,"u":18.7},{"id":"c3","t":52,"u":20.7},{"id":"c3","t":64,"u":28.8},{"id":"c3","t":76,"u":30.7},{"id":"c3","t":88,"u":38.7},{"id":"c3","t":100,"u":40.7},{"id":"c3","t":112,"u":48.8},{"id":"c3","t":124,"u":50.5},{"id":"c3","t":135,"u":56.9},
{"id":"c4","t":6,"u":3.6},{"id":"c4","t":18.5,"u":5.5},{"id":"c4","t":31.5,"u":12.7},{"id":"c4","t":44.5,"u":14.8},{"id":"c4","t":57.5,"u":22.7},{"id":"c4","t":70.5,"u":24.7},{"id":"c4","t":83.5,"u":32.7},{"id":"c4","t":96.5,"u":34.8},{"id":"c4","t":109.5,"u":42.7},{"id":"c4","t":122.5,"u":44.7},{"id":"c4","t":135.5,"u":52.7},{"id":"c4","t":147,"u":54.5},
{"id":"c5","t":6.5,"u":0.9},{"id":"c5","t":20,"u":8.3},{"id":"c5","t":34,"u":10},{"id":"c5","t":48,"u":17.2},{"id":"c5","t":62,"u":19},{"id":"c5","t":76,"u":26.2},{"id":"c5","t":90,"u":28.1},{"id":"c5","t":104,"u":36.2},{"id":"c5","t":118,"u":38.2},{"id":"c5","t":132,"u":46.2},{"id":"c5","t":144.5,"u":48},
{"id":"c6","t":7,"u":4.2},{"id":"c6","t":21,"u":6},{"id":"c6","t":35,"u":13.2},{"id":"c6","t":49,"u":15},{"id":"c6","t":63,"u":22.2},{"id":"c6","t":77,"u":24.2},{"id":"c6","t":91,"u":32.1},{"id":"c6","t":105,"u":34.2},{"id":"c6","t":119,"u":42.2},{"id":"c6","t":133,"u":44.2},{"id":"c6","t":146,"u":51.3},{"id":"c6","t":157,"u":53},
{"id":"c7","t":5,"u":1.1},{"id":"c7","t":15.5,"u":9.6},{"id":"c7","t":26.5,"u":11.8},{"id":"c7","t":37.5,"u":20.6},{"id":"c7","t":48.5,"u":22.7},{"id":"c7","t":59.5,"u":31.5},{"id":"c7","t":70.5,"u":33.8},{"id":"c7","t":81.5,"u":41.8},{"id":"c7","t":92.5,"u":43.7},{"id":"c7","t":103.5,"u":52.5},{"id":"c7","t":115,"u":54.7},
{"id":"c8","t":5.5,"u":4.2},{"id":"c8","t":17,"u":6.2},{"id":"c8","t":29,"u":14.2},{"id":"c8","t":41,"u":16.2},{"id":"c8","t":53,"u":24.2},{"id":"c8","t":65,"u":26.1},{"id":"c8","t":77,"u":34.2},{"id":"c8","t":89,"u":36.4},{"id":"c8","t":101,"u":45.2},{"id":"c8","t":113,"u":47.1},{"id":"c8","t":126,"u":55.5},
{"id":"c9","t":6,"u":1.1},{"id":"c9","t":18,"u":8.8},{"id":"c9","t":30,"u":10.9},{"id":"c9","t":42,"u":19.7},{"id":"c9","t":54,"u":21.7},{"id":"c9","t":66,"u":29.8},{"id":"c9","t":78,"u":31.7},{"id":"c9","t":90,"u":39.7},{"id":"c9","t":102,"u":41.9},{"id":"c9","t":114,"u":50.8},{"id":"c9","t":127.5,"u":52.8},
{"id":"c10","t":6,"u":3.4},{"id":"c10","t":18.5,"u":5.3},{"id":"c10","t":31.5,"u":12},{"id":"c10","t":44.5,"u":13.7},{"id":"c10","t":57.5,"u":20.9},{"id":"c10","t":70.5,"u":22.7},{"id":"c10","t":83.5,"u":30.8},{"id":"c10","t":96.5,"u":32.7},{"id":"c10","t":109.5,"u":40.7},{"id":"c10","t":121,"u":42.3},{"id":"c10","t":131,"u":48},
{"id":"c11","t":5,"u":0.9},{"id":"c11","t":15.5,"u":8.3},{"id":"c11","t":26.5,"u":10},{"id":"c11","t":37.5,"u":17.2},{"id":"c11","t":48.5,"u":19},{"id":"c11","t":59.5,"u":26.2},{"id":"c11","t":70.5,"u":27.9},{"id":"c11","t":81.5,"u":34.4},{"id":"c11","t":92.5,"u":36},{"id":"c11","t":102,"u":41.6},
{"id":"c12","t":5,"u":3.4},{"id":"c12","t":15,"u":5.3},{"id":"c12","t":25,"u":12},{"id":"c12","t":35,"u":13.7},{"id":"c12","t":45,"u":20.9},{"id":"c12","t":55,"u":22.7},{"id":"c12","t":65,"u":30},{"id":"c12","t":75,"u":31.5},{"id":"c12","t":85,"u":37.9},{"id":"c12","t":95.5,"u":39.4},
{"id":"c13","t":4,"u":1.1},{"id":"c13","t":12,"u":8.7},{"id":"c13","t":20,"u":10.6},{"id":"c13","t":28,"u":17.8},{"id":"c13","t":36,"u":19.5},{"id":"c13","t":44,"u":25.9},{"id":"c13","t":52,"u":27.7},{"id":"c13","t":60,"u":35},{"id":"c13","t":68,"u":36.5},
{"id":"c14","t":4,"u":3.5},{"id":"c14","t":12,"u":5.2},{"id":"c14","t":20,"u":12.4},{"id":"c14","t":28,"u":13.9},{"id":"c14","t":36,"u":21.2},{"id":"c14","t":44,"u":23},{"id":"c14","t":52,"u":29.4},{"id":"c14","t":60,"u":30.9},{"id":"c14","t":67.5,"u":37.4},
{"id":"c15","t":5,"u":0.9},{"id":"c15","t":15,"u":6.9},{"id":"c15","t":25,"u":8.6},{"id":"c15","t":35,"u":14.2},{"id":"c15","t":45,"u":15.5},{"id":"c15","t":55,"u":21.1},{"id":"c15","t":65,"u":22.5},{"id":"c15","t":75,"u":28.2},{"id":"c15","t":84,"u":29.3},
{"id":"c16","t":4,"u":2.7},{"id":"c16","t":12,"u":3.8},{"id":"c16","t":20,"u":9.4},{"id":"c16","t":28,"u":10.7},{"id":"c16","t":36,"u":15.6},{"id":"c16","t":44,"u":16.8},{"id":"c16","t":52,"u":21.6},
{"id":"c17","t":4.5,"u":0.7},{"id":"c17","t":13.5,"u":5.2},{"id":"c17","t":22.5,"u":6.3},{"id":"c17","t":31.5,"u":11.1},{"id":"c17","t":40.5,"u":12.3},{"id":"c17","t":49.5,"u":17.2},{"id":"c17","t":58.5,"u":18.3},{"id":"c17","t":67,"u":23.2},
{"id":"c18","t":5,"u":2.6},{"id":"c18","t":15,"u":3.8},{"id":"c18","t":25,"u":7.8},{"id":"c18","t":35,"u":8.8},{"id":"c18","t":45,"u":12.8},{"id":"c18","t":55,"u":13.7},{"id":"c18","t":65,"u":17.8},{"id":"c18","t":76.5,"u":19.1},
{"id":"c19","t":6,"u":0.9},{"id":"c19","t":18.5,"u":7.7},{"id":"c19","t":31.5,"u":9.7},{"id":"c19","t":44,"u":16.9},{"id":"c19","t":55,"u":18.4},{"id":"c19","t":64,"u":23.3},{"id":"c19","t":87.5,"u":24.6},{"id":"c19","t":102.5,"u":26.2},{"id":"c19","t":116,"u":26.6},{"id":"c19","t":127.5,"u":28},
{"id":"c20","t":7.5,"u":2.6},{"id":"c20","t":22.5,"u":3.6},{"id":"c20","t":37.5,"u":6.8},{"id":"c20","t":52.5,"u":7.6},{"id":"c20","t":67.5,"u":10.8},{"id":"c20","t":82.5,"u":11.6},{"id":"c20","t":98,"u":14.5}
]},
"layer":[
{"data":{"name":"paths"},
"transform":[{"lookup":"id","from":{"data":{"name":"units"},"key":"id","fields":["lab","st"]}},{"filter":"datum.st == 'f'"}],
"mark":{"type":"line","strokeWidth":1},
"encoding":{
"x":{"field":"t","type":"quantitative","scale":{"domain":[-8.3,268.4],"nice":false,"zero":false},"axis":{"values":[0,50,100,150,200,250],"title":"Cycles","labelPadding":6,"titlePadding":15}},
"y":{"field":"u","type":"quantitative","scale":{"domain":[-12.8,323.4],"nice":false,"zero":false},"axis":{"values":[0,50,100,150,200,250,300],"title":"u(t)","labelAngle":-90,"labelAlign":"center","labelBaseline":"bottom","labelPadding":5,"titlePadding":16}},
"detail":{"field":"id"},
"order":{"field":"t","type":"quantitative"},
"stroke":{"field":"lab","type":"nominal","scale":{"domain":["true failed unit","true censored unit"],"range":["#DF536B","#000000"]},
"legend":{"title":null,"orient":"none","legendX":0,"legendY":0,"strokeColor":"black","padding":5,"symbolType":"stroke","symbolSize":196,"symbolStrokeWidth":1,"symbolOffset":9,"labelOffset":9,"labelFontSize":10,"labelFont":"Liberation Sans","labelColor":"black","rowPadding":-2,"cornerRadius":0}}}},
{"data":{"name":"paths"},
"transform":[{"lookup":"id","from":{"data":{"name":"units"},"key":"id","fields":["lab","st"]}},{"filter":"datum.st == 'c'"}],
"mark":{"type":"line","strokeWidth":1},
"encoding":{
"x":{"field":"t","type":"quantitative","scale":{"domain":[-8.3,268.4],"nice":false,"zero":false}},
"y":{"field":"u","type":"quantitative","scale":{"domain":[-12.8,323.4],"nice":false,"zero":false}},
"detail":{"field":"id"},
"order":{"field":"t","type":"quantitative"},
"stroke":{"field":"lab","type":"nominal","scale":{"domain":["true failed unit","true censored unit"],"range":["#DF536B","#000000"]}}}},
{"data":{"name":"refs"},"transform":[{"filter":"datum.k == 'solid'"}],
"mark":{"type":"rule","color":"#222222","strokeWidth":1.3},
"encoding":{"y":{"field":"y","type":"quantitative","scale":{"domain":[-12.8,323.4],"nice":false,"zero":false}}}},
{"data":{"name":"refs"},"transform":[{"filter":"datum.k == 'dot'"}],
"mark":{"type":"rule","color":"#9E9E9E","strokeWidth":1,"strokeDash":[1,3]},
"encoding":{"y":{"field":"y","type":"quantitative","scale":{"domain":[-12.8,323.4],"nice":false,"zero":false}}}},
{"data":{"name":"paths"},
"transform":[{"joinaggregate":[{"op":"max","field":"t","as":"mt"}],"groupby":["id"]},{"filter":"datum.t == datum.mt"},{"lookup":"id","from":{"data":{"name":"units"},"key":"id","fields":["lab","st"]}}],
"mark":{"type":"point","filled":true,"size":200,"opacity":1,"strokeWidth":0},
"encoding":{
"x":{"field":"t","type":"quantitative","scale":{"domain":[-8.3,268.4],"nice":false,"zero":false}},
"y":{"field":"u","type":"quantitative","scale":{"domain":[-12.8,323.4],"nice":false,"zero":false}},
"fill":{"field":"st","type":"nominal","scale":{"domain":["f","c"],"range":["#2297E6","#61D04F"]},
"legend":{"title":null,"orient":"none","legendX":0,"legendY":0,"padding":5,"symbolSize":196,"symbolOffset":16,"symbolStrokeWidth":0,"labelExpr":"''","labelFontSize":10,"labelOffset":9,"rowPadding":-2,"strokeColor":null}},
"shape":{"field":"st","type":"nominal","scale":{"domain":["f","c"],"range":["M-0.38,0A0.38,0.38,0,1,1,0.38,0A0.38,0.38,0,1,1,-0.38,0Z","M-0.34,-0.34H0.34V0.34H-0.34Z"]},
"legend":{"title":null,"orient":"none","legendX":0,"legendY":0,"padding":5,"symbolSize":196,"symbolOffset":16,"symbolStrokeWidth":0,"labelExpr":"''","labelFontSize":10,"labelOffset":9,"rowPadding":-2,"strokeColor":null}}}}
]
}
